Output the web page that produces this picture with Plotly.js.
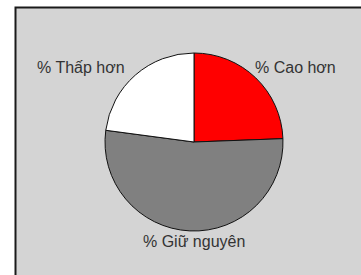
<!DOCTYPE html>
<html><head><meta charset="utf-8">
<script src="https://cdn.plot.ly/plotly-3.0.1.min.js"></script>
<style>html,body{margin:0;padding:0;background:#fff;}#c{width:361px;height:275px;}</style>
</head><body><div id="c"></div>
<script>
const labels = ["% Cao hơn", "% Giữ nguyên", "% Thấp hơn"];
const values = [24.4, 52.7, 22.9];
const colors = ["#ff0000", "#808080", "#ffffff"];

const W = 361, H = 275;
const cx = 194, cy = 142, r = 89;
const font = {family: "Liberation Sans, Arial, sans-serif", size: 16, color: "#333"};
// label anchor points in pixels: [x, y, xanchor]
const labelPos = [[253, 67, "left"], [194, 241, "center"], [127, 67, "right"]];
Plotly.newPlot("c", [{
  type: "pie",
  labels: labels,
  values: values,
  sort: false,
  direction: "clockwise",
  rotation: 0,
  marker: {colors: colors, line: {color: "#111", width: 1}},
  textinfo: "none",
  hoverinfo: "none",
  showlegend: false,
  domain: {x: [(cx - r) / W, (cx + r) / W], y: [(H - cy - r) / H, (H - cy + r) / H]}
}], {
  width: W, height: H,
  margin: {l: 0, r: 0, t: 0, b: 0},
  paper_bgcolor: "#ffffff",
  showlegend: false,
  annotations: labels.map((t, i) => ({
    text: t, xref: "paper", yref: "paper", showarrow: false,
    x: labelPos[i][0] / W, y: 1 - labelPos[i][1] / H,
    xanchor: labelPos[i][2], yanchor: "middle", font: font
  })),
  shapes: [
    {type: "rect", xref: "paper", yref: "paper", layer: "below",
     x0: 15.5 / W, x1: 1.1, y0: -0.1, y1: 1 - 7.5 / H,
     fillcolor: "#d4d4d4", line: {color: "#1a1a1a", width: 2}}
  ]
}, {staticPlot: true});
</script></body></html>
